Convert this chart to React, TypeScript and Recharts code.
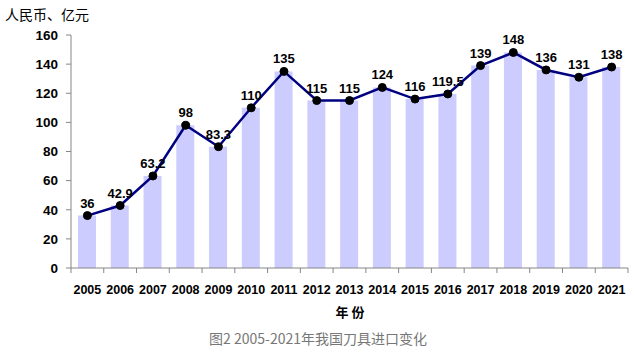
import { ComposedChart, Bar, Line, XAxis, YAxis, LabelList } from 'recharts';

const years = ['2005', '2006', '2007', '2008', '2009', '2010', '2011', '2012', '2013', '2014', '2015', '2016', '2017', '2018', '2019', '2020', '2021'];
const imports = [36, 42.9, 63.2, 98, 83.3, 110, 135, 115, 115, 124, 116, 119.5, 139, 148, 136, 131, 138];
const yTicks = [0, 20, 40, 60, 80, 100, 120, 140, 160];

const data = years.map((year, i) => ({ year, value: imports[i] }));

const BAND = (628 - 71) / years.length;

function YearTick(props: any) {
  const { x, y, payload, index } = props;
  const half = BAND / 2;
  return (
    <g>
      <line x1={x - half} y1={y - 8} x2={x - half} y2={y - 3} stroke="#868686" />
      {index === years.length - 1 && (
        <line x1={x + half} y1={y - 8} x2={x + half} y2={y - 3} stroke="#868686" />
      )}
      <text x={x} y={y + 18} textAnchor="middle" fontSize={12.5} fontWeight="bold" fill="#000" fontFamily="'Liberation Sans', Arial, sans-serif">
        {payload.value}
      </text>
    </g>
  );
}

export default function App() {
  return (
    <div style={{ position: 'absolute', left: 0, top: 0, width: 635, height: 353, background: '#fff' }}>
      <div style={{ position: 'absolute', left: 5, top: 4, fontSize: 14, fontFamily: "'Noto Sans CJK SC', sans-serif", color: '#000', lineHeight: '20px' }}>
        人民币、亿元
      </div>
      <ComposedChart width={635} height={353} data={data} margin={{ top: 35, right: 7, left: 0, bottom: 55 }}>
        <XAxis
          dataKey="year"
          height={30}
          axisLine={{ stroke: '#868686' }}
          tickLine={false}
          interval={0}
          tick={<YearTick />}
        />
        <YAxis
          width={71}
          domain={[0, 160]}
          ticks={yTicks}
          interval={0}
          axisLine={{ stroke: '#868686' }}
          tickLine={{ stroke: '#868686' }}
          tickSize={5}
          tickMargin={8}
          tick={{ fontSize: 13.5, fontWeight: 'bold', fill: '#000', fontFamily: "'Liberation Sans', Arial, sans-serif" }}
        />
        <Bar dataKey="value" fill="#ccccff" barSize={18} isAnimationActive={false} />
        <Line
          dataKey="value"
          stroke="#000080"
          strokeWidth={2.5}
          dot={{ r: 4, fill: '#000', stroke: '#000', strokeWidth: 1 }}
          activeDot={false}
          isAnimationActive={false}
        >
          <LabelList
            dataKey="value"
            position="top"
            offset={8}
            style={{ fontSize: 13, fontWeight: 'bold', fill: '#000', fontFamily: "'Liberation Sans', Arial, sans-serif" }}
          />
        </Line>
      </ComposedChart>
      <div style={{ position: 'absolute', left: 0, width: 700, top: 302, textAlign: 'center', fontSize: 13, fontWeight: 'bold', fontFamily: "'Noto Sans CJK SC', sans-serif", lineHeight: '20px' }}>
        年 份
      </div>
      <div style={{ position: 'absolute', left: 0, width: 636, top: 328, textAlign: 'center', fontSize: 14, color: '#777', fontFamily: "'Noto Sans CJK SC', serif", lineHeight: '20px' }}>
        图2 2005-2021年我国刀具进口变化
      </div>
    </div>
  );
}
